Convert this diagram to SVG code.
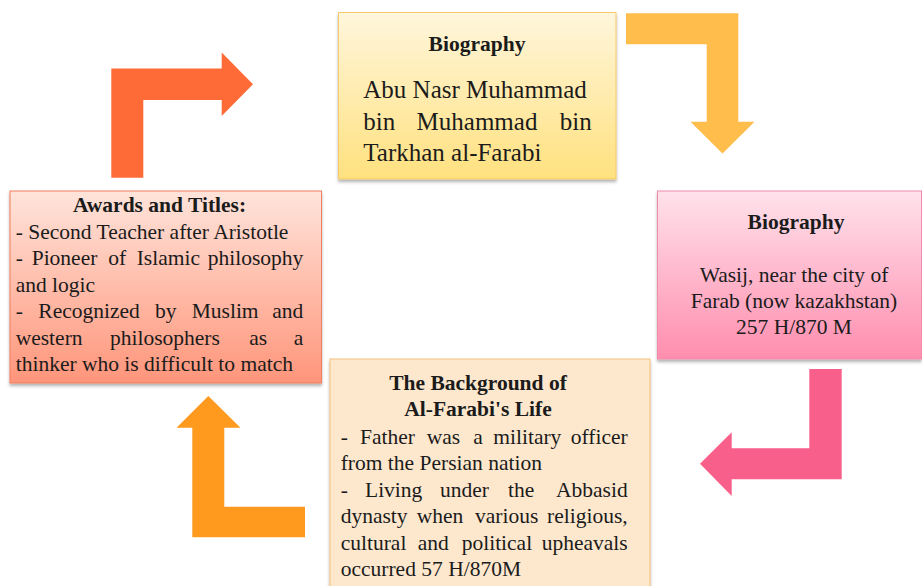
<svg xmlns="http://www.w3.org/2000/svg" width="922" height="586" viewBox="0 0 922 586">
<defs>
<linearGradient id="gTop" x1="0" y1="0" x2="0" y2="1"><stop offset="0" stop-color="#FFF6DC"/><stop offset="1" stop-color="#FFE17F"/></linearGradient>
<linearGradient id="gPink" x1="0" y1="0" x2="0" y2="1"><stop offset="0" stop-color="#FFE2EB"/><stop offset="1" stop-color="#FF8DAE"/></linearGradient>
<linearGradient id="gLeft" x1="0" y1="0" x2="0" y2="1"><stop offset="0" stop-color="#FFE4DB"/><stop offset="1" stop-color="#FF957A"/></linearGradient>
<filter id="sh" x="-5%" y="-5%" width="110%" height="115%"><feDropShadow dx="0" dy="2.5" stdDeviation="1.5" flood-color="#000" flood-opacity="0.3"/></filter>
</defs>
<style>
text{font-family:"Liberation Serif","DejaVu Serif",serif;fill:#1b1b1b;}
.t{font-weight:bold;font-size:21.5px;text-anchor:middle;}
.b{font-size:21.5px;}
.big{font-size:25px;}
.e{text-anchor:end;}
.m{text-anchor:middle;}
</style>
<rect width="922" height="586" fill="#fff"/>
<g id="connectors">
<polygon fill="#FF6B37" points="111.3,177.7 111.3,68.5 221.7,68.5 221.7,52.5 253,84.2 221.7,116 221.7,100 143.3,100 143.3,177.7"/>
<polygon fill="#FFBD4C" points="626,13.3 738.3,13.3 738.3,121.7 754.5,121.7 722.5,153.5 690.5,121.7 706.7,121.7 706.7,44.3 626,44.3"/>
<polygon fill="#F95F8B" points="809.3,369 841.7,369 841.7,479.3 731.7,479.3 731.7,496 700,463.8 731.7,432.3 731.7,448.3 809.3,448.3"/>
<polygon fill="#FF9A1F" points="208.3,396 240.5,427.7 224.3,427.7 224.3,506.7 305,506.7 305,537.3 192.3,537.3 192.3,427.7 176.5,427.7"/>
</g>
<g id="biography-name">
<rect x="338.5" y="12.5" width="277.5" height="166.5" fill="url(#gTop)" stroke="#F6C96A" stroke-width="1" filter="url(#sh)"/>
<text class="t" x="477" y="51">Biography</text>
<text class="big" x="363.3" y="98">Abu Nasr Muhammad</text>
<text class="big" y="129.5"><tspan x="363.3">bin</tspan><tspan x="477" class="m">Muhammad</tspan><tspan x="591.7" class="e">bin</tspan></text>
<text class="big" x="363.3" y="160.5">Tarkhan al-Farabi</text>
</g>
<g id="biography-birth">
<rect x="657.5" y="191" width="264" height="168" fill="url(#gPink)" stroke="#F28BAA" stroke-width="1" filter="url(#sh)"/>
<text class="t" x="796" y="229">Biography</text>
<text class="b m" x="794" y="282">Wasij, near the city of</text>
<text class="b m" x="794" y="307.5">Farab (now kazakhstan)</text>
<text class="b m" x="794" y="333.5">257 H/870 M</text>
</g>
<g id="awards">
<rect x="10" y="191" width="311.5" height="192" fill="url(#gLeft)" stroke="#F07E5E" stroke-width="1" filter="url(#sh)"/>
<text class="t" x="159.5" y="211.5">Awards and Titles:</text>
<text class="b" x="15.7" y="238.5">- Second Teacher after Aristotle</text>
<text class="b" y="265"><tspan x="15.7">-</tspan><tspan x="31.7">Pioneer</tspan><tspan x="108.3">of</tspan><tspan x="136.7">Islamic</tspan><tspan x="303.3" class="e">philosophy</tspan></text>
<text class="b" x="15.7" y="291.5">and logic</text>
<text class="b" y="318"><tspan x="15.7">-</tspan><tspan x="38.3">Recognized</tspan><tspan x="155">by</tspan><tspan x="191.7">Muslim</tspan><tspan x="303.3" class="e">and</tspan></text>
<text class="b" y="344.5"><tspan x="15.7">western</tspan><tspan x="110">philosophers</tspan><tspan x="249.3">as</tspan><tspan x="303.3" class="e">a</tspan></text>
<text class="b" x="15.7" y="370.5">thinker who is difficult to match</text>
</g>
<g id="background">
<rect x="330" y="359" width="320" height="240" fill="#FDE8CE" stroke="#F6C27E" stroke-width="1" filter="url(#sh)"/>
<text class="t" x="478" y="390">The Background of</text>
<text class="t" x="478" y="416">Al-Farabi's Life</text>
<text class="b" y="443.5"><tspan x="340.7">-</tspan><tspan x="360">Father</tspan><tspan x="426.7">was</tspan><tspan x="473.3">a</tspan><tspan x="493.3">military</tspan><tspan x="627.7" class="e">officer</tspan></text>
<text class="b" x="340.7" y="470">from the Persian nation</text>
<text class="b" y="496.7"><tspan x="340.7">-</tspan><tspan x="365">Living</tspan><tspan x="440">under</tspan><tspan x="508">the</tspan><tspan x="627.7" class="e">Abbasid</tspan></text>
<text class="b" y="523.3"><tspan x="340.7">dynasty</tspan><tspan x="416.7">when</tspan><tspan x="475">various</tspan><tspan x="627.7" class="e">religious,</tspan></text>
<text class="b" y="550"><tspan x="340.7">cultural</tspan><tspan x="417.7">and</tspan><tspan x="461.7">political</tspan><tspan x="627.7" class="e">upheavals</tspan></text>
<text class="b" x="340.7" y="576">occurred 57 H/870M</text>
</g>
</svg>
